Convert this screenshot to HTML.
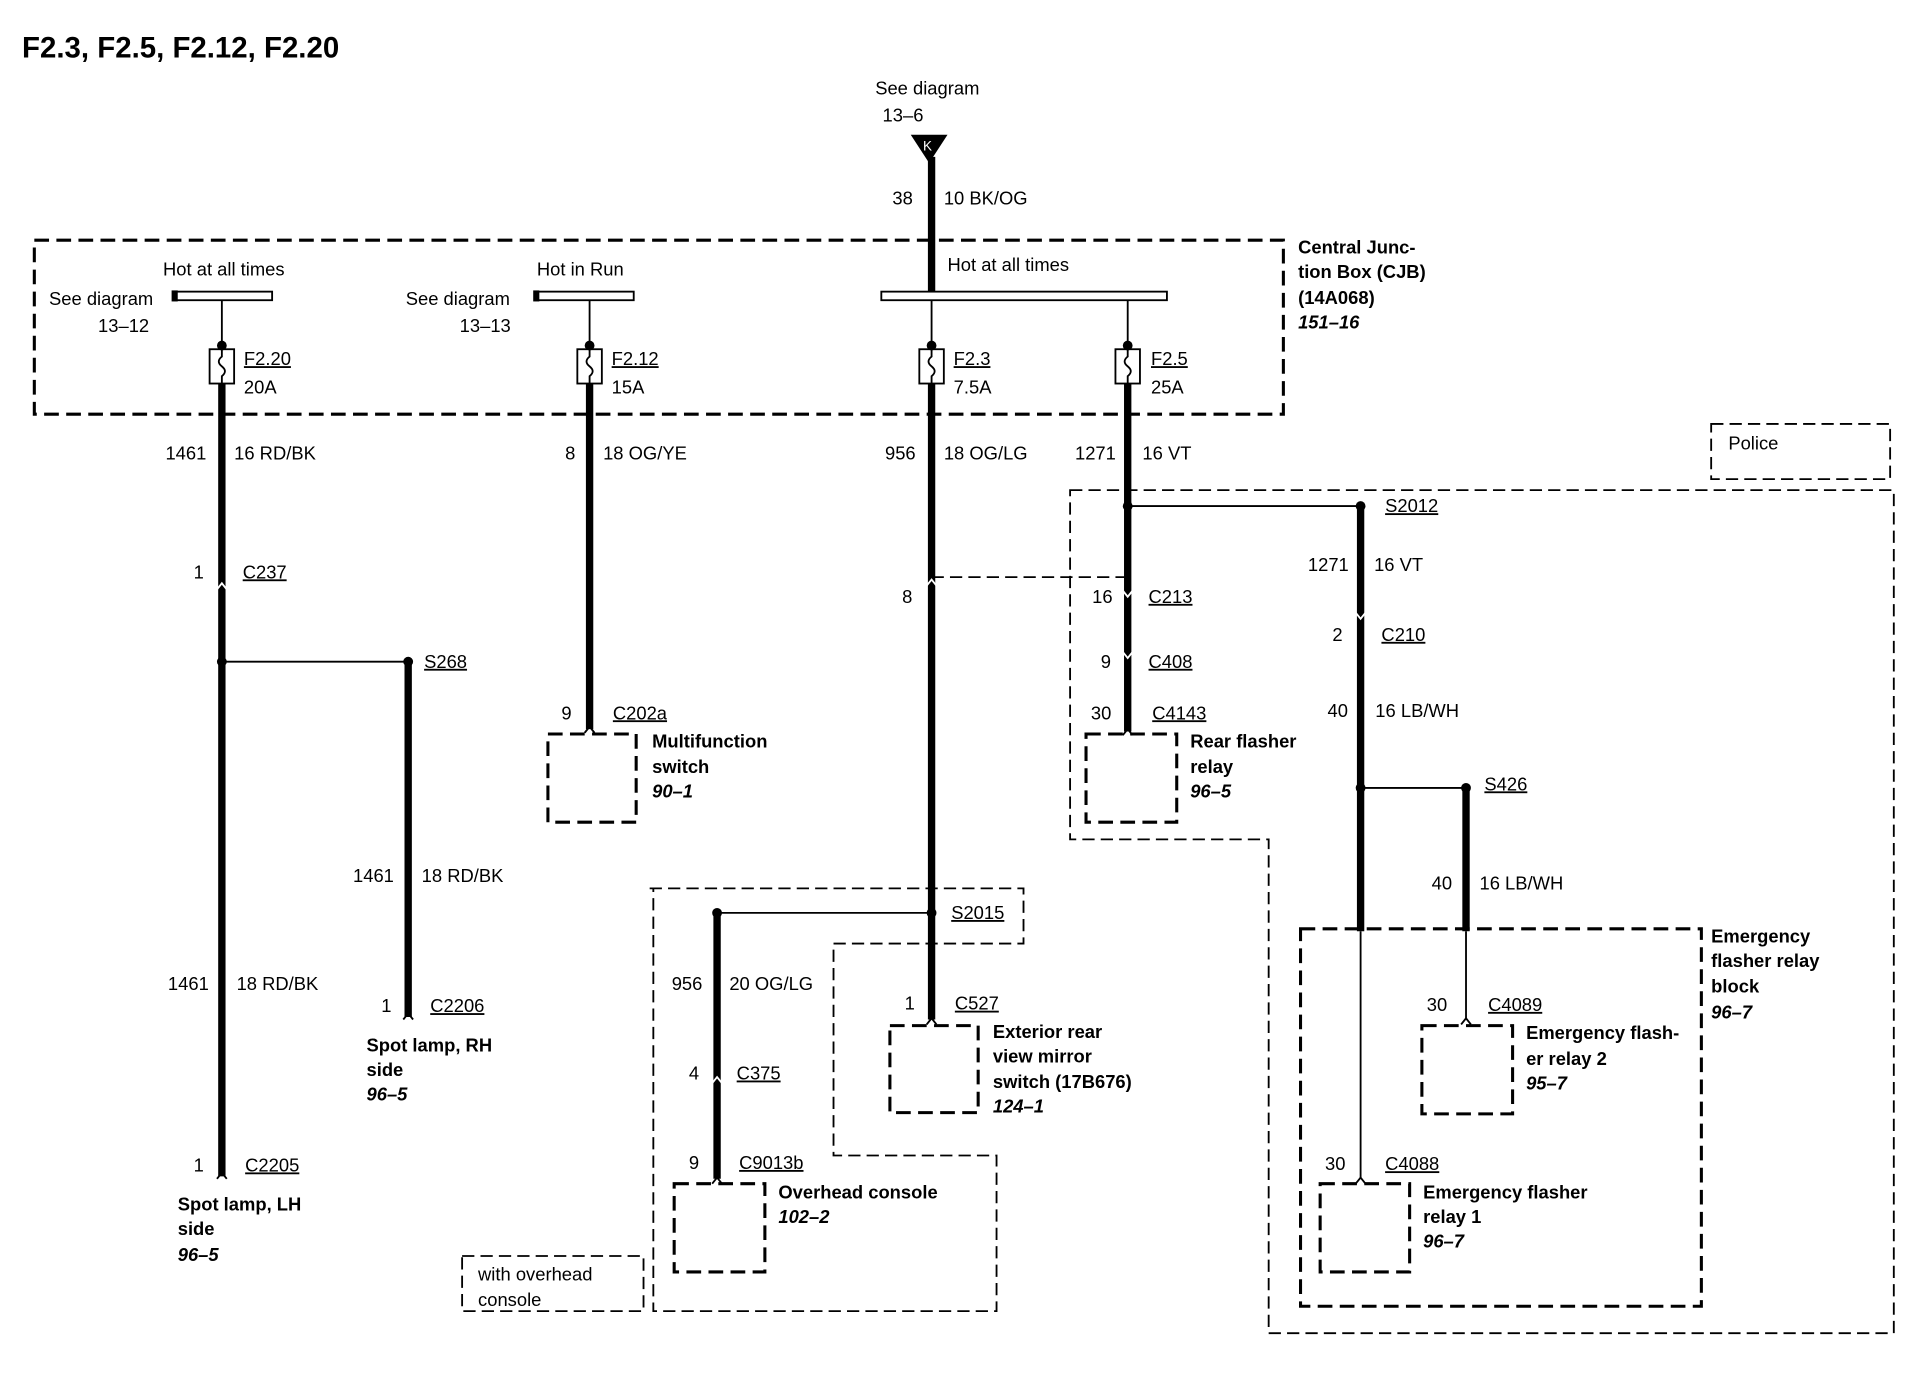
<!DOCTYPE html>
<html><head><meta charset="utf-8"><style>
html,body{margin:0;padding:0;background:#fff;}
svg{display:block}
text{font-family:"Liberation Sans",Arial,sans-serif;font-size:15px;fill:#000}
.b{font-weight:bold}
.i{font-weight:bold;font-style:italic}
.u{text-decoration:underline}
</style></head><body>
<svg width="1922" height="1392" viewBox="0 0 1568 1136" preserveAspectRatio="none" xmlns="http://www.w3.org/2000/svg">
<g fill="none" stroke="#000">
<g stroke-width="2.5" stroke-dasharray="12,6">
<rect x="28" y="196" width="1019" height="142"/>
<rect x="447" y="599" width="72" height="72"/>
<rect x="886" y="599" width="74" height="72"/>
<rect x="726" y="837" width="72" height="71"/>
<rect x="550" y="966" width="74" height="72"/>
<rect x="1160" y="837" width="74" height="72"/>
<rect x="1077" y="966" width="73" height="72"/>
<rect x="1061" y="758" width="327" height="308"/>
</g>
<g stroke-width="1.5" stroke-dasharray="10,5">
<polyline points="530,725 835,725 835,770 680,770 680,943 813,943 813,1070 533,1070 533,725"/>
<rect x="377" y="1025" width="148" height="45"/>
<polygon points="873,400 1545,400 1545,1088 1035,1088 1035,685 873,685"/>
<rect x="1396" y="346" width="146" height="45"/>
<line x1="760" y1="471" x2="920" y2="471"/>
</g>
<g stroke-width="1.5" fill="#fff">
<rect x="142" y="238" width="80" height="7"/>
<rect x="437" y="238" width="80" height="7"/>
<rect x="719" y="238" width="233" height="7"/>
</g>
<rect x="140" y="237" width="5" height="9" fill="#000" stroke="none"/>
<rect x="435" y="237" width="5" height="9" fill="#000" stroke="none"/>
<g stroke-width="1.5">
<line x1="181" y1="245" x2="181" y2="285"/>
<line x1="481" y1="245" x2="481" y2="285"/>
<line x1="760" y1="245" x2="760" y2="285"/>
<line x1="920" y1="245" x2="920" y2="285"/>
<line x1="181" y1="540" x2="333" y2="540"/>
<line x1="585" y1="745" x2="760" y2="745"/>
<line x1="920" y1="413" x2="1110" y2="413"/>
<line x1="1110" y1="643" x2="1196" y2="643"/>
<line x1="1110" y1="760" x2="1110" y2="962"/>
<line x1="1196" y1="760" x2="1196" y2="832"/>
</g>
<g stroke-width="1.5" fill="#fff">
<rect x="171" y="285" width="20" height="28"/>
<rect x="471" y="285" width="20" height="28"/>
<rect x="750" y="285" width="20" height="28"/>
<rect x="910" y="285" width="20" height="28"/>
</g>
<g stroke-width="1.5">
<path d="M181,285 v6 q-5,4 0,8 q5,4 0,8 v6"/>
<path d="M481,285 v6 q-5,4 0,8 q5,4 0,8 v6"/>
<path d="M760,285 v6 q-5,4 0,8 q5,4 0,8 v6"/>
<path d="M920,285 v6 q-5,4 0,8 q5,4 0,8 v6"/>
</g>
<g stroke-width="6">
<line x1="760" y1="128" x2="760" y2="238"/>
<line x1="181" y1="313" x2="181" y2="960"/>
<line x1="333" y1="540" x2="333" y2="830"/>
<line x1="481" y1="313" x2="481" y2="595"/>
<line x1="760" y1="313" x2="760" y2="832"/>
<line x1="585" y1="745" x2="585" y2="962"/>
<line x1="920" y1="313" x2="920" y2="597"/>
<line x1="1110" y1="413" x2="1110" y2="760"/>
<line x1="1196" y1="643" x2="1196" y2="760"/>
</g>
<g stroke="#fff" stroke-width="1.5">
<polyline points="177,481 181,476 185,481"/>
<polyline points="756,478 760,473 764,478"/>
<polyline points="916,482 920,487 924,482"/>
<polyline points="916,532 920,537 924,532"/>
<polyline points="1106,500 1110,505 1114,500"/>
<polyline points="581,884 585,879 589,884"/>
</g>
<g stroke-width="1.5">
<polyline points="177,962 181,957 185,962"/>
<polyline points="477,598 481,593 485,598"/>
<polyline points="916,600 920,595 924,600"/>
<polyline points="756,836 760,831 764,836"/>
<polyline points="581,966 585,961 589,966"/>
<polyline points="1192,836 1196,831 1200,836"/>
<polyline points="1106,966 1110,961 1114,966"/>
<polyline points="329,832 333,827 337,832"/>
</g>
</g>
<g fill="#000">
<circle cx="181" cy="282" r="4"/><circle cx="481" cy="282" r="4"/><circle cx="760" cy="282" r="4"/><circle cx="920" cy="282" r="4"/>
<circle cx="181" cy="540" r="4"/><circle cx="333" cy="540" r="4"/>
<circle cx="760" cy="745" r="4"/><circle cx="585" cy="745" r="4"/>
<circle cx="920" cy="413" r="4"/><circle cx="1110" cy="413" r="4"/>
<circle cx="1110" cy="643" r="4"/><circle cx="1196" cy="643" r="4"/>
<polygon points="743,110 773,110 758,133"/>
</g>
<text x="753" y="123" style="font-size:11px;fill:#fff">K</text>

<text x="18" y="47" class="b" style="font-size:24px">F2.3, F2.5, F2.12, F2.20</text>
<text x="714" y="77">See diagram</text><text x="720" y="99">13–6</text>
<text x="728" y="167">38</text><text x="770" y="167">10 BK/OG</text>
<text x="1059" y="207" class="b">Central Junc-</text><text x="1059" y="227" class="b">tion Box (CJB)</text><text x="1059" y="248" class="b">(14A068)</text><text x="1059" y="268" class="i">151–16</text>
<text x="133" y="225">Hot at all times</text><text x="40" y="249">See diagram</text><text x="80" y="271">13–12</text>
<text x="438" y="225">Hot in Run</text><text x="331" y="249">See diagram</text><text x="375" y="271">13–13</text>
<text x="773" y="221">Hot at all times</text>
<text x="199" y="298" class="u">F2.20</text><text x="199" y="321">20A</text>
<text x="499" y="298" class="u">F2.12</text><text x="499" y="321">15A</text>
<text x="778" y="298" class="u">F2.3</text><text x="778" y="321">7.5A</text>
<text x="939" y="298" class="u">F2.5</text><text x="939" y="321">25A</text>
<text x="135" y="375">1461</text><text x="191" y="375">16 RD/BK</text>
<text x="461" y="375">8</text><text x="492" y="375">18 OG/YE</text>
<text x="722" y="375">956</text><text x="770" y="375">18 OG/LG</text>
<text x="877" y="375">1271</text><text x="932" y="375">16 VT</text>
<text x="158" y="472">1</text><text x="198" y="472" class="u">C237</text>
<text x="346" y="545" class="u">S268</text>
<text x="288" y="720">1461</text><text x="344" y="720">18 RD/BK</text>
<text x="311" y="826">1</text><text x="351" y="826" class="u">C2206</text>
<text x="299" y="858" class="b">Spot lamp, RH</text><text x="299" y="878" class="b">side</text><text x="299" y="898" class="i">96–5</text>
<text x="137" y="808">1461</text><text x="193" y="808">18 RD/BK</text>
<text x="158" y="956">1</text><text x="200" y="956" class="u">C2205</text>
<text x="145" y="988" class="b">Spot lamp, LH</text><text x="145" y="1008" class="b">side</text><text x="145" y="1029" class="i">96–5</text>
<text x="458" y="587">9</text><text x="500" y="587" class="u">C202a</text>
<text x="532" y="610" class="b">Multifunction</text><text x="532" y="631" class="b">switch</text><text x="532" y="651" class="i">90–1</text>
<text x="736" y="492">8</text>
<text x="776" y="750" class="u">S2015</text>
<text x="738" y="824">1</text><text x="779" y="824" class="u">C527</text>
<text x="810" y="847" class="b">Exterior rear</text><text x="810" y="867" class="b">view mirror</text><text x="810" y="888" class="b">switch (17B676)</text><text x="810" y="908" class="i">124–1</text>
<text x="548" y="808">956</text><text x="595" y="808">20 OG/LG</text>
<text x="562" y="881">4</text><text x="601" y="881" class="u">C375</text>
<text x="562" y="954">9</text><text x="603" y="954" class="u">C9013b</text>
<text x="635" y="978" class="b">Overhead console</text><text x="635" y="998" class="i">102–2</text>
<text x="390" y="1045">with overhead</text><text x="390" y="1066">console</text>
<text x="1410" y="367">Police</text>
<text x="1130" y="418" class="u">S2012</text>
<text x="891" y="492">16</text><text x="937" y="492" class="u">C213</text>
<text x="898" y="545">9</text><text x="937" y="545" class="u">C408</text>
<text x="890" y="587">30</text><text x="940" y="587" class="u">C4143</text>
<text x="971" y="610" class="b">Rear flasher</text><text x="971" y="631" class="b">relay</text><text x="971" y="651" class="i">96–5</text>
<text x="1067" y="466">1271</text><text x="1121" y="466">16 VT</text>
<text x="1087" y="523">2</text><text x="1127" y="523" class="u">C210</text>
<text x="1083" y="585">40</text><text x="1122" y="585">16 LB/WH</text>
<text x="1211" y="645" class="u">S426</text>
<text x="1168" y="726">40</text><text x="1207" y="726">16 LB/WH</text>
<text x="1396" y="769" class="b">Emergency</text><text x="1396" y="789" class="b">flasher relay</text><text x="1396" y="810" class="b">block</text><text x="1396" y="831" class="i">96–7</text>
<text x="1164" y="825">30</text><text x="1214" y="825" class="u">C4089</text>
<text x="1245" y="848" class="b">Emergency flash-</text><text x="1245" y="869" class="b">er relay 2</text><text x="1245" y="889" class="i">95–7</text>
<text x="1081" y="955">30</text><text x="1130" y="955" class="u">C4088</text>
<text x="1161" y="978" class="b">Emergency flasher</text><text x="1161" y="998" class="b">relay 1</text><text x="1161" y="1018" class="i">96–7</text>
</svg>
</body></html>
